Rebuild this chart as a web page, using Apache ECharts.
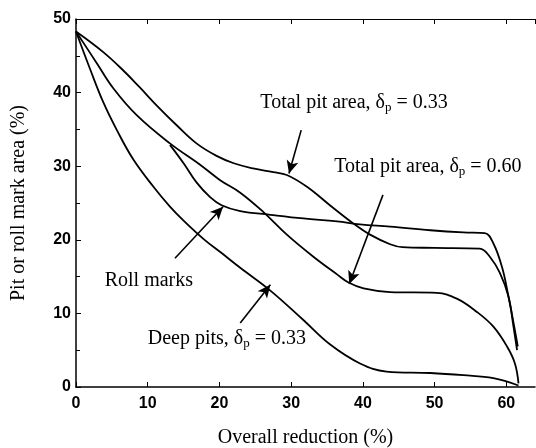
<!DOCTYPE html>
<html><head><meta charset="utf-8">
<script src="https://cdn.jsdelivr.net/npm/echarts@6/dist/echarts.min.js"></script>
<style>html,body{margin:0;padding:0;background:#fff}#c{width:536px;height:448px}</style>
</head><body><div id="c"></div>
<script>
// Data
const totalPit033 = [[0,48.3],[3.8,45.5],[6.6,43.0],[8.9,40.7],[11.3,38.2],[14.0,35.6],[16.8,33.1],[19.6,31.4],[22,30.4],[24.7,29.7],[27.5,29.2],[29.4,28.8],[32.2,27.2],[35.4,24.7],[38.7,22.2],[41.0,20.7],[43.8,19.4],[45.5,19.0],[50,18.9],[56.3,18.8],[57.7,17.7],[59.1,15.5],[60.3,12.3],[61.0,8.2],[61.5,5.0]];
const totalPit060 = [[0,48.3],[2.9,44.0],[5.2,40.6],[8.5,36.9],[13.1,33.1],[17.3,30.2],[20.1,28.1],[22.9,26.4],[26.1,23.8],[29.4,20.7],[33.1,17.7],[36.4,15.3],[38.0,14.2],[40.1,13.4],[43.8,12.9],[50.3,12.8],[53.1,12.0],[55.9,10.2],[58.2,8.2],[60.1,5.5],[61.2,3.2],[61.7,0.5]];
const rollMarks = [[13.1,32.9],[15.0,30.4],[16.8,27.8],[18.7,25.8],[20.3,24.7],[22.9,23.9],[27.1,23.4],[31.7,22.9],[36.4,22.5],[39.6,22.1],[43.8,21.8],[49.4,21.3],[54.0,21.0],[57.0,20.9],[58.2,19.5],[59.4,16.3],[60.3,12.3],[61.2,7.7],[61.6,5.5]];
const deepPits = [[0,48.3],[2.0,43.1],[3.8,38.7],[5.7,34.9],[8.0,30.9],[10.8,27.2],[13.1,24.5],[15.0,22.6],[17.8,20.1],[20.3,18.2],[22.9,16.2],[27.1,13.1],[31.7,9.1],[35.4,5.8],[39.6,3.2],[43.3,2.1],[49.4,1.9],[54.0,1.6],[58.2,1.2],[61.7,0.2]];
const xTicks = [0,10,20,30,40,50,60];
const yTicks = [0,10,20,30,40,50];
// annotations: [text, x, y]
const labels = [
  ['{a|Total pit area, δ}{s|p}{a| = 0.33}', 25.7, 38.6],
  ['{a|Total pit area, δ}{s|p}{a| = 0.60}', 36.0, 29.9],
  ['{a|Roll marks}', 4.0, 14.5],
  ['{a|Deep pits, δ}{s|p}{a| = 0.33}', 10.0, 6.5]
];
// arrows: [fromX, fromY, toX, toY]
const arrows = [
  [31.4,34.9,29.7,29.0],
  [42.8,26.1,38.1,14.0],
  [13.8,17.5,20.5,24.5],
  [22.9,8.7,27.1,13.9]
];

const chart = echarts.init(document.getElementById('c'), null, {renderer:'canvas'});
const serif = '"Liberation Serif","Times New Roman",serif';
const sans = '"Liberation Sans",Arial,sans-serif';
function curve(d){
  return {type:'line', data:d, smooth:0.4, symbol:'none', silent:true,
    lineStyle:{color:'#000', width:1.8}};
}
chart.setOption({
  animation:false,
  grid:{left:76, top:19, width:459, height:368, outerBoundsMode:'none', containLabel:false},
  xAxis:[{
    type:'value', min:0, max:64, interval:10,
    name:'Overall reduction (%)', nameLocation:'middle', nameGap:41,
    nameTextStyle:{fontFamily:serif, fontSize:20, color:'#000'},
    axisLine:{lineStyle:{color:'#000', width:1.5}},
    axisTick:{inside:true, length:5, lineStyle:{color:'#000'}},
    axisLabel:{fontFamily:sans, fontSize:16, fontWeight:'bold', color:'#000', margin:9, showMaxLabel:false,
      formatter:v=>xTicks.includes(v)?String(v):''},
    splitLine:{show:false}
  },{
    type:'value', min:0, max:64, interval:10, position:'top',
    axisLine:{lineStyle:{color:'#000', width:1.2}},
    axisTick:{inside:true, length:5, lineStyle:{color:'#000'}},
    axisLabel:{show:false}, splitLine:{show:false}
  }],
  yAxis:[{
    type:'value', min:0, max:50, interval:10,
    name:'Pit or roll mark area (%)', nameLocation:'middle', nameGap:47,
    nameTextStyle:{fontFamily:serif, fontSize:20, color:'#000'},
    axisLine:{lineStyle:{color:'#000', width:1.5}},
    axisTick:{inside:true, length:5, lineStyle:{color:'#000'}},
    minorTick:{show:true, splitNumber:2, length:4, lineStyle:{color:'#000'}},
    axisLabel:{fontFamily:sans, fontSize:16, fontWeight:'bold', color:'#000', margin:5,
      formatter:v=>yTicks.includes(v)?String(v):''},
    splitLine:{show:false}
  }],
  series:[
    curve(totalPit033), curve(totalPit060), curve(rollMarks), curve(deepPits),
    {type:'line', data:[], silent:true,
     markLine:{silent:true, symbol:['none','arrow'], symbolSize:[9,13],
       lineStyle:{color:'#000', width:1.6, type:'solid'}, label:{show:false},
       data:arrows.map(a=>[{coord:[a[0],a[1]]},{coord:[a[2],a[3]]}])},
     markPoint:{silent:true, symbol:'circle', symbolSize:0,
       label:{show:true, position:'right', distance:0, color:'#000',
         formatter:p=>p.data.txt,
         rich:{a:{fontFamily:serif, fontSize:20, color:'#000'},
               s:{fontFamily:serif, fontSize:13, color:'#000', padding:[9,0,0,0]}}},
       data:labels.map(l=>({coord:[l[1],l[2]], txt:l[0]}))}
    }
  ]
});
</script></body></html>
